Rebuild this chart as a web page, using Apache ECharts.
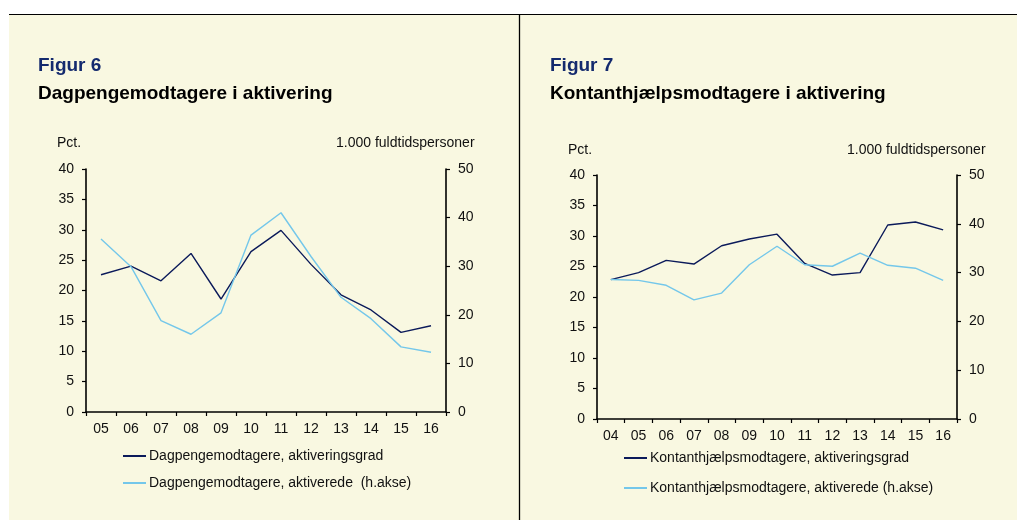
<!DOCTYPE html>
<html>
<head>
<meta charset="utf-8">
<script src="https://cdn.jsdelivr.net/npm/echarts@6/dist/echarts.min.js"></script>
<style>
html, body { margin: 0; padding: 0; background: #fff; }
#main { width: 1017px; height: 520px; }
</style>
</head>
<body>
<div id="main"></div>
<script>
'use strict';

let yearsA = ['05', '06', '07', '08', '09', '10', '11', '12', '13', '14', '15', '16'];
let gradA = [22.6, 24.0, 21.6, 26.1, 18.6, 26.4, 29.9, 24.3, 19.3, 16.8, 13.1, 14.2];
let aktivA = [35.6, 29.9, 18.8, 16.0, 20.4, 36.4, 41.0, 32.0, 23.6, 19.2, 13.4, 12.3];

let yearsB = ['04', '05', '06', '07', '08', '09', '10', '11', '12', '13', '14', '15', '16'];
let gradB = [22.85, 24.0, 26.0, 25.4, 28.4, 29.5, 30.3, 25.5, 23.6, 24.0, 31.8, 32.3, 31.0];
let aktivB = [28.6, 28.4, 27.4, 24.4, 25.8, 31.6, 35.4, 31.6, 31.3, 34.0, 31.5, 30.9, 28.4];

let font = '"Liberation Sans", Arial, sans-serif';
let navy = '#0b1a5a';
let light = '#74c7ea';
let cream = '#f9f8e1';

let myChart = echarts.init(document.getElementById('main'));

function xAxis(grid, data) {
	return {
		type: 'category',
		gridIndex: grid,
		data: data,
		boundaryGap: true,
		axisLine: { lineStyle: { color: '#000', width: 1.6 } },
		axisTick: { show: true, interval: 0, length: 4, lineStyle: { color: '#000', width: 1.2 } },
		axisLabel: { interval: 0, color: '#111', fontFamily: font, fontSize: 14, margin: 10 },
		splitLine: { show: false }
	};
}

function yAxis(grid, pos, max, interval) {
	return {
		type: 'value',
		gridIndex: grid,
		position: pos,
		min: 0,
		max: max,
		interval: interval,
		axisLine: { show: true, lineStyle: { color: '#000', width: 1.6 } },
		axisTick: { show: true, length: 4, lineStyle: { color: '#000', width: 1.2 } },
		axisLabel: { color: '#111', fontFamily: font, fontSize: 14, margin: 12 },
		splitLine: { show: false }
	};
}

function lineSeries(name, x, y, data, color) {
	return {
		name: name,
		type: 'line',
		xAxisIndex: x,
		yAxisIndex: y,
		data: data,
		symbol: 'none',
		lineStyle: { color: color, width: 1.4 },
		itemStyle: { color: color },
		animation: false
	};
}

function legend(left, top, gap, names) {
	return {
		orient: 'vertical',
		left: left,
		top: top,
		icon: 'rect',
		itemWidth: 23,
		itemHeight: 2,
		itemGap: gap,
		data: names,
		textStyle: { color: '#111', fontFamily: font, fontSize: 14, padding: [0, 0, 0, -2] }
	};
}

let option = {
	backgroundColor: '#fff',
	animation: false,
	graphic: [
		{ type: 'rect', shape: { x: 9, y: 15, width: 1010, height: 510 }, style: { fill: cream }, z: -10 },
		{ type: 'line', shape: { x1: 9, y1: 14.5, x2: 1017, y2: 14.5 }, style: { stroke: '#000', lineWidth: 1 } },
		{ type: 'line', shape: { x1: 519.5, y1: 14, x2: 519.5, y2: 520 }, style: { stroke: '#000', lineWidth: 1.3 } },
		{ type: 'text', left: 57, top: 136, style: { text: 'Pct.', fill: '#111', font: '14px ' + font } },
		{ type: 'text', left: 336, top: 136, style: { text: '1.000 fuldtidspersoner', fill: '#111', font: '14px ' + font } },
		{ type: 'text', left: 568, top: 143, style: { text: 'Pct.', fill: '#111', font: '14px ' + font } },
		{ type: 'text', left: 847, top: 143, style: { text: '1.000 fuldtidspersoner', fill: '#111', font: '14px ' + font } }
	],
	title: [
		{ text: 'Figur 6', left: 33, top: 51, textStyle: { color: '#142a6e', fontFamily: font, fontSize: 19, fontWeight: 'bold' } },
		{ text: 'Dagpengemodtagere i aktivering', left: 33, top: 79, textStyle: { color: '#000', fontFamily: font, fontSize: 19, fontWeight: 'bold' } },
		{ text: 'Figur 7', left: 545, top: 51, textStyle: { color: '#142a6e', fontFamily: font, fontSize: 19, fontWeight: 'bold' } },
		{ text: 'Kontanthjælpsmodtagere i aktivering', left: 545, top: 79, textStyle: { color: '#000', fontFamily: font, fontSize: 19, fontWeight: 'bold' } }
	],
	legend: [
		legend(118, 444, 13, ['Dagpengemodtagere, aktiveringsgrad', 'Dagpengemodtagere, aktiverede  (h.akse)']),
		legend(619, 446, 16, ['Kontanthjælpsmodtagere, aktiveringsgrad', 'Kontanthjælpsmodtagere, aktiverede (h.akse)'])
	],
	grid: [
		{ left: 86, top: 169, width: 360, height: 243 },
		{ left: 597, top: 175, width: 360, height: 244 }
	],
	xAxis: [xAxis(0, yearsA), xAxis(1, yearsB)],
	yAxis: [
		yAxis(0, 'left', 40, 5),
		yAxis(0, 'right', 50, 10),
		yAxis(1, 'left', 40, 5),
		yAxis(1, 'right', 50, 10)
	],
	series: [
		lineSeries('Dagpengemodtagere, aktiveringsgrad', 0, 0, gradA, navy),
		lineSeries('Dagpengemodtagere, aktiverede  (h.akse)', 0, 1, aktivA, light),
		lineSeries('Kontanthjælpsmodtagere, aktiveringsgrad', 1, 2, gradB, navy),
		lineSeries('Kontanthjælpsmodtagere, aktiverede (h.akse)', 1, 3, aktivB, light)
	]
};
myChart.setOption(option);
</script>
</body>
</html>
